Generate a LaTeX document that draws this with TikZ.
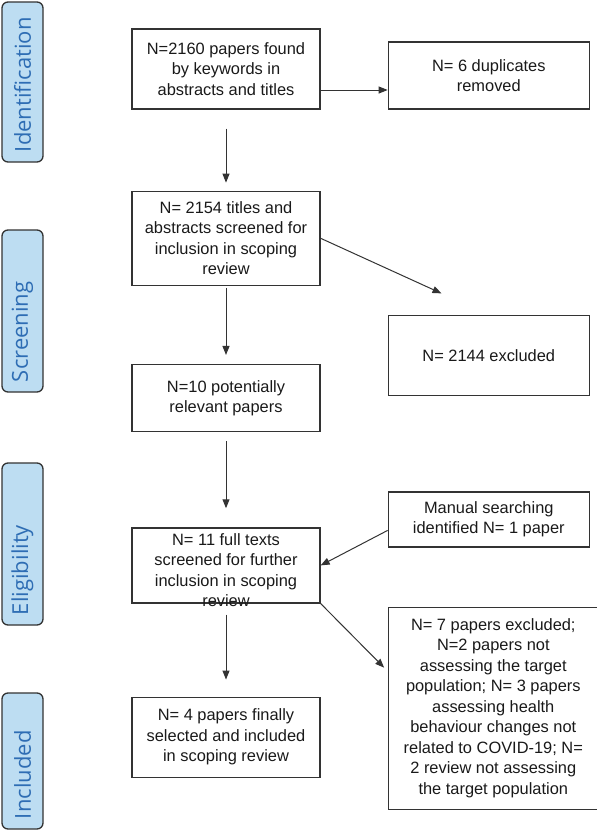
\documentclass[tikz,border=0pt]{standalone}
\usepackage{fontspec}
\setmainfont{Liberation Sans}
\newfontfamily\stagefont{Open Sans}
\usetikzlibrary{arrows.meta,positioning}
\definecolor{stagefill}{HTML}{BDDDF2}
\definecolor{stagetext}{HTML}{2E6DB4}
\definecolor{boxline}{HTML}{333333}

\begin{document}
\begin{tikzpicture}[x=1pt,y=1pt,>={Triangle[length=9pt,width=7pt]},
  main box/.style={rectangle,draw=boxline,line width=1.3pt,text=black!90,font=\fontsize{16.4}{20.5}\selectfont,align=center,inner sep=2pt,minimum width=188pt},
  side box/.style={main box,minimum width=201pt},
  stage box/.style={rectangle,rounded corners=6pt,draw=black!80,line width=1.3pt,fill=stagefill,text=stagetext,font=\stagefont\fontsize{22}{26}\selectfont,rotate=90,minimum height=41pt,inner xsep=10pt,align=left}]

  \useasboundingbox (0,0) rectangle (597,-830);

  % stages
  \node[stage box,minimum width=160pt,text width=140pt] (ident) at (22.5,-82) {Identification};
  \node[stage box,minimum width=162pt,text width=142pt] (screen) at (22.5,-311) {Screening};
  \node[stage box,minimum width=162pt,text width=142pt] (elig) at (22.5,-544) {Eligibility};
  \node[stage box,minimum width=136pt,text width=116pt] (incl) at (22.5,-761) {Included};

  % main column
  \node[main box,minimum height=80pt] (b1) at (226,-69) {N=2160 papers found\\by keywords in\\abstracts and titles};
  \node[main box,minimum height=94pt] (b2) [below=81pt of b1] {N= 2154 titles and\\abstracts screened for\\inclusion in scoping\\review};
  \node[main box,minimum height=67pt] (b3) [below=78pt of b2] {N=10 potentially\\relevant papers};
  \node[main box,minimum height=75pt] (b4) [below=95pt of b3] {};
  \node[align=center,font=\fontsize{16.4}{20.5}\selectfont,text=black!90,inner sep=0pt,anchor=north] (t4) at ([yshift=-6pt]b4.north) {N= 11 full texts\\screened for further\\inclusion in scoping\\review};
  \node[main box,minimum height=80pt] (b5) [below=93pt of b4] {N= 4 papers finally\\selected and included\\in scoping review};

  % right column
  \node[side box,minimum height=67pt] (r1) [right=67pt of b1,yshift=-6.5pt] {N= 6 duplicates\\removed};
  \node[side box,minimum height=80pt] (r2) [right=67pt of b3,yshift=42.5pt] {N= 2144 excluded};
  \node[side box,minimum height=55pt] (r3) [right=67pt of b4,yshift=46pt] {Manual searching\\identified N= 1 paper};
  \node[side box,minimum height=202pt,minimum width=210pt] (r4) [right=67pt of b5,yshift=29pt] {N= 7 papers excluded;\\N=2 papers not\\assessing the target\\population; N= 3 papers\\assessing health\\behaviour changes not\\related to COVID-19; N=\\2 review not assessing\\the target population};

  \coordinate (d1) at ([yshift=-21pt]b1.east);
  \coordinate (m1) at ([yshift=-11pt]r3.west);
  \coordinate (x1) at ([yshift=37pt]r4.west);

  \path[->,color=boxline,line width=1pt]
       (b1) edge[shorten <=19pt,shorten >=8pt] (b2)
       (b2) edge[shorten <=2pt,shorten >=9pt] (b3)
       (b3) edge[shorten <=9pt,shorten >=19pt] (b4)
       (b4) edge[shorten <=11pt,shorten >=17pt] (b5)
       (d1) edge (d1 -| r1.west)
       (b2.east) edge[shorten >=52pt] (r2.north)
       (m1) edge (b4.east)
       (b4.south east) edge[shorten >=5pt] (x1);
\end{tikzpicture}
\end{document}
